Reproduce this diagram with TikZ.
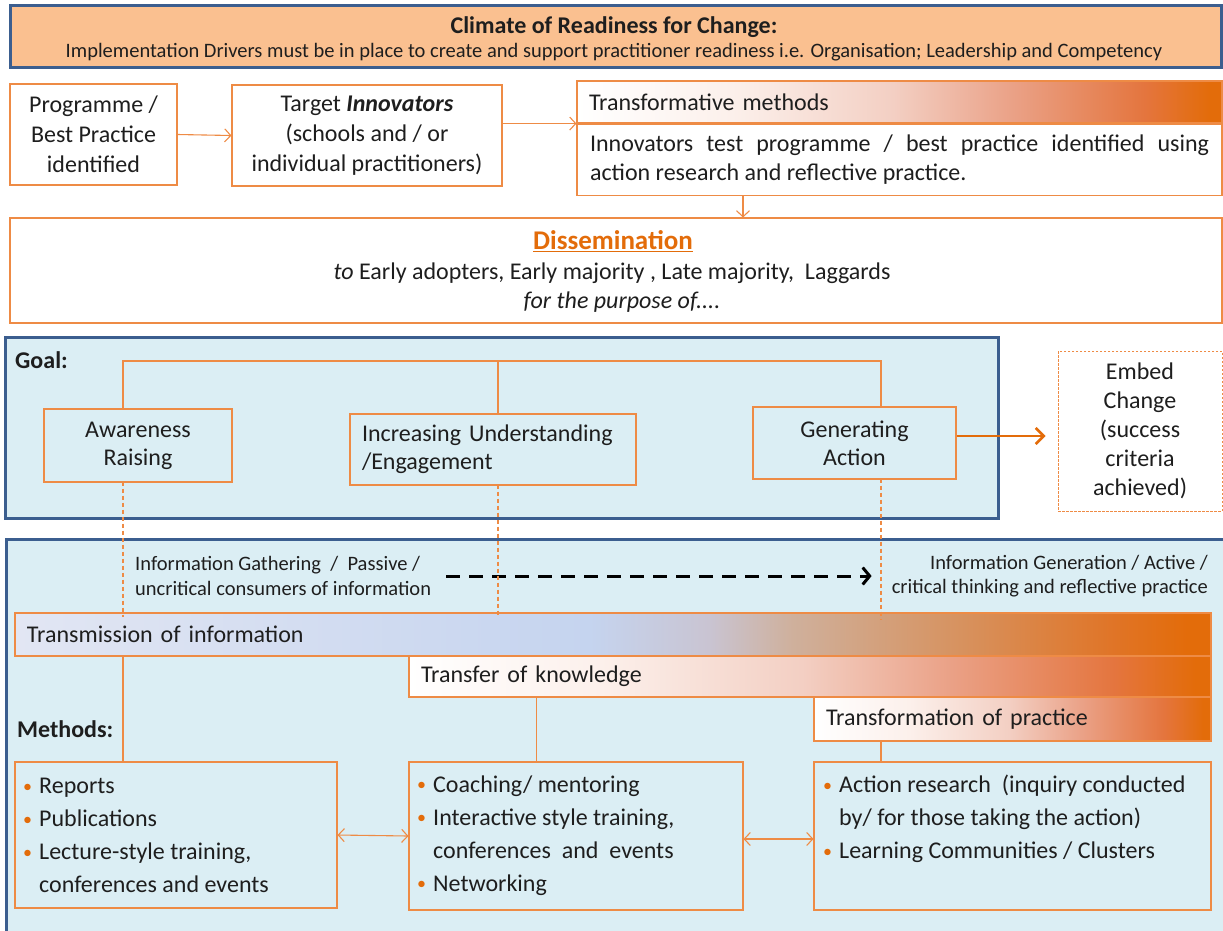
\documentclass[tikz,border=0pt]{standalone}
\usepackage{fontspec}
\setmainfont{Carlito}
\usetikzlibrary{arrows.meta,calc}
\definecolor{peach}{HTML}{FAC090}
\definecolor{navy}{HTML}{3B5E8F}
\definecolor{lineor}{HTML}{EE8B45}
\definecolor{dorange}{HTML}{E36C0A}
\definecolor{lblue}{HTML}{DBEEF4}
\definecolor{txt}{HTML}{1E1E1E}
\definecolor{tmA}{HTML}{E2E6F3}
\definecolor{tmB}{HTML}{C5D4EF}
\definecolor{tmC}{HTML}{C9C4D2}
\definecolor{tmD}{HTML}{CFB09C}
\definecolor{tmE}{HTML}{D7925F}
\definecolor{tmF}{HTML}{E07426}
\definecolor{woA}{HTML}{FCF0EB}
\definecolor{woB}{HTML}{F3CFC3}
\definecolor{woC}{HTML}{EAA085}
\definecolor{woD}{HTML}{E4753E}
\pgfdeclarehorizontalshading{transm}{100bp}{color(0bp)=(tmA); color(25bp)=(tmA); color(49bp)=(tmB); color(54bp)=(tmC); color(57.5bp)=(tmD); color(64.5bp)=(tmE); color(71bp)=(tmF); color(74bp)=(dorange); color(100bp)=(dorange)}
\pgfdeclarehorizontalshading{wtoo}{100bp}{color(0bp)=(white); color(25bp)=(white); color(37bp)=(woA); color(49.5bp)=(woB); color(59bp)=(woC); color(69bp)=(woD); color(74bp)=(dorange); color(100bp)=(dorange)}
\newcommand{\bul}{\makebox[16pt][l]{\textcolor{dorange}{\fontsize{18}{18}\selectfont\raisebox{1.5pt}{•}}}}
\newcommand{\ind}{\hspace*{16pt}}
\begin{document}
\begin{tikzpicture}[x=1pt,y=-1pt,
  every node/.style={text=txt, inner sep=0pt},
  obox/.style={draw=lineor, line width=1.1pt, fill=white, align=center, font=\fontsize{24}{30}\selectfont},
  gbox/.style={draw=lineor, line width=1.1pt, fill=lblue, align=center, font=\fontsize{24}{28}\selectfont},
  navybox/.style={draw=navy, line width=3pt},
  bar/.style={draw=lineor, line width=1.1pt, shade, align=left, font=\fontsize{24}{28}\selectfont},
  oline/.style={draw=lineor, line width=1.1pt},
  odash/.style={draw=lineor, line width=1.2pt, dash pattern=on 4pt off 3pt},
  oarrow/.style={oline, -{Straight Barb[length=6pt,width=13pt]}},
  darrow/.style={oline, {Straight Barb[length=6pt,width=13pt]}-{Straight Barb[length=6pt,width=13pt]}},
  body/.style={font=\fontsize{24}{29}\selectfont},
  info/.style={font=\fontsize{20.5}{24.5}\selectfont}
]
\useasboundingbox (0,0) rectangle (1223,930);

% banner
\node[navybox, fill=peach, minimum width=1211, minimum height=62] (banner) at (615.5,36) {};
\node[font=\bfseries\fontsize{24}{28}\selectfont] (btitle) at (614,27) {Climate of Readiness for Change:};
\node[font=\fontsize{20.5}{24}\selectfont] (bsub) at (614,52) {Implementation Drivers must be in place to create and support practitioner readiness i.e. Organisation; Leadership and Competency};

% top row
\node[obox, minimum width=167, minimum height=101] (b1) at (93.5,134.5) {Programme /\\Best Practice\\identified};
\node[obox, minimum width=270, minimum height=101] (b2) at (367,135.5) {Target \textbf{\textit{Innovators}}\\(schools and / or\\individual practitioners)};
\node[bar, shading=wtoo, text width=621, inner xsep=12pt, minimum height=42] (hd) at (899.5,102) {Transformative methods};
\node[obox, body, text width=619, inner xsep=13pt, minimum height=71, align=justify] (bd) at (899.5,160) {Innovators test programme / best practice identified using\linebreak action research and reflective practice.};
\draw[oarrow] (b1.east) -- (b2.west);
\draw[oarrow] (b2.east |- hd.south west) -- (hd.south west);
\coordinate (dx) at ([xshift=-156.5pt]bd.south);

% dissemination
\node[obox, minimum width=1212, minimum height=105] (dis) at (616,270.5) {};
\draw[oarrow] (dx) -- (dx |- dis.north);
\node[font=\bfseries\fontsize{27}{30}\selectfont, text=dorange] (dt) at (613,241) {\underline{Dissemination}};
\node[body] (d2) at (612,273) {\textit{to} Early adopters, Early majority , Late majority,\ \ Laggards};
\node[body] (d3) at (622,302) {\textit{for the purpose of....}};

% goal panel
\node[navybox, fill=lblue, minimum width=993, minimum height=181] (goal) at (501.5,427.5) {};
\node[anchor=west, font=\bfseries\fontsize{24}{28}\selectfont] (gl) at (15,360) {Goal:};
\node[gbox, minimum width=188, minimum height=73] (aw) at (138,445.5) {Awareness\\Raising};
\node[gbox, minimum width=286, minimum height=71, text width=262, inner xsep=12pt, align=left] (iu) at (493,449.5) {Increasing Understanding\\/Engagement};
\node[gbox, minimum width=203, minimum height=72] (ga) at (854.5,443) {Generating\\Action};
\node[obox, dash pattern=on 2.5pt off 1.5pt, line width=0.9pt, minimum width=164, minimum height=160, font=\fontsize{24}{29}\selectfont] (emb) at (1140,431) {Embed\\Change\\(success\\criteria\\achieved)};
\coordinate (gtop) at (0,361);
\coordinate (a1) at ([xshift=-15pt]aw.north);
\coordinate (a2) at ([xshift=5pt]iu.north);
\coordinate (a3) at ([xshift=26.5pt]ga.north);
\draw[oline] (a1) -- (a1 |- gtop) -- (a3 |- gtop) -- (a3);
\draw[oline] (a2) -- (a2 |- gtop);
\draw[draw=dorange, line width=2.6pt, -{Straight Barb[length=8pt,width=16pt]}] (ga.east |- 0,436) -- ([xshift=-12pt]emb.west |- 0,436);

% lower panel
\node[navybox, fill=lblue, minimum width=1240, minimum height=420, anchor=north west] (low) at (5,538) {};
\node[info, anchor=west, align=left] (ig) at (135,576) {Information Gathering\ \ /\ \ Passive /\\uncritical consumers of information};
\node[info, anchor=east, align=right] (ia) at (1208,576) {Information Generation / Active /\\critical thinking and reflective practice};
\draw[black, line width=3pt, dash pattern=on 14pt off 9pt, shorten <=15pt, shorten >=20pt, -{Straight Barb[length=7pt,width=17pt]}] (ig.east) -- (ia.west);

\node[bar, shading=transm, text width=1172, inner xsep=12pt, minimum height=43] (tm) at (613,634.5) {Transmission of information};
\node[bar, shading=wtoo, text width=778, inner xsep=12pt, minimum height=41] (tk) at (810,676.5) {Transfer of knowledge};
\node[bar, shading=wtoo, text width=373, inner xsep=12pt, minimum height=44] (tp) at (1012.5,719) {Transformation of practice};

\draw[odash] ([yshift=1pt]aw.south -| a1) -- ([yshift=-5pt]tm.north -| a1);
\draw[odash] ([yshift=1pt]iu.south -| a2) -- ([yshift=-5pt]tm.north -| a2);
\draw[odash] ([yshift=1pt]ga.south -| a3) -- ([yshift=-7pt]tm.north -| a3);

\node[anchor=west, font=\bfseries\fontsize{24}{28}\selectfont] (ml) at (17,729) {Methods:};

\node[draw=lineor, line width=1.1pt, minimum width=322, minimum height=146] (m1) at (176,835) {};
\node[draw=lineor, line width=1.1pt, minimum width=334, minimum height=148] (m2) at (576,836) {};
\node[draw=lineor, line width=1.1pt, minimum width=397, minimum height=148] (m3) at (1012.5,836) {};
\node[anchor=west, align=left, font=\fontsize{24}{33}\selectfont] (t1) at (23,835.5) {\bul Reports\\\bul Publications\\\bul Lecture-style training,\\\ind conferences and events};
\node[anchor=west, align=left, font=\fontsize{24}{33}\selectfont] (t2) at (417,835.5) {\bul Coaching/ mentoring\\\bul Interactive style training,\\\ind conferences\ \ and\ \ events\\\bul Networking};
\node[anchor=west, align=left, font=\fontsize{24}{33}\selectfont] (t3) at (823,819) {\bul Action research\ \ (inquiry conducted\\\ind by/ for those taking the action)\\\bul Learning Communities / Clusters};

\coordinate (v2) at ([xshift=128pt]tk.south west);
\draw[oline] (tm.south -| a1) -- (m1.north -| a1);
\draw[oline] (v2) -- (v2 |- m2.north);
\draw[oline] (tp.south -| a3) -- (m3.north -| a3);
\draw[darrow] (m1.east) -- (m2.west);
\draw[darrow] ([yshift=-3pt]m2.east) -- ([yshift=-3pt]m3.west);
\end{tikzpicture}
\end{document}
